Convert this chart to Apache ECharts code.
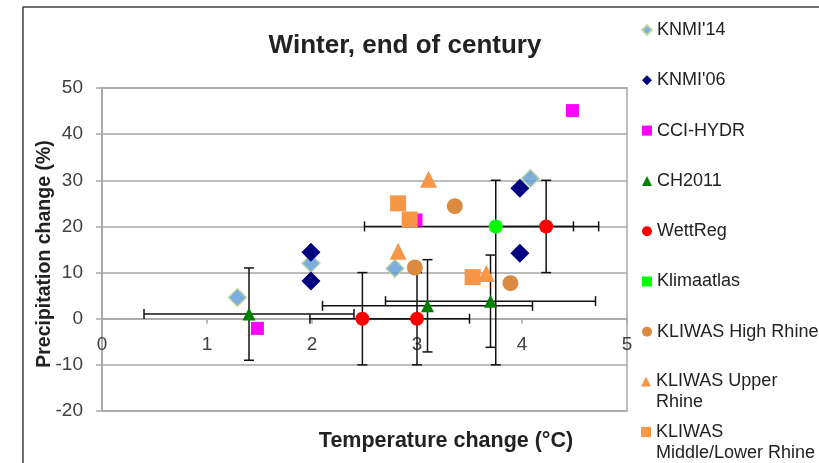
<!DOCTYPE html>
<html>
<head>
<meta charset="utf-8">
<script src="https://cdn.jsdelivr.net/npm/echarts@6/dist/echarts.min.js"></script>
<style>html,body{margin:0;padding:0;background:#fff}#c{width:819px;height:463px}</style>
</head>
<body>
<div id="c"></div>
<script>
// ---- data ----
const xTicks = [0, 1, 2, 3, 4, 5];
const yTicks = [-20, -10, 0, 10, 20, 30, 40, 50];
const knmi14 = [[1.29, 4.6], [1.99, 12.0], [2.79, 10.9], [4.08, 30.4]];
const knmi06 = [[1.99, 14.4], [1.99, 8.2], [3.98, 28.3], [3.98, 14.2]];
const cciHydr = [[4.48, 45.1], [2.99, 21.4], [1.48, -2.1]];
const ch2011 = [[1.4, 1.0], [3.1, 2.8], [3.7, 3.8]];
const wettReg = [[2.48, 0.0], [3.0, 0.0], [4.23, 20.0]];
const klimaatlas = [[3.75, 20.0]];
const kliwasHigh = [[3.36, 24.4], [2.98, 11.1], [3.89, 7.7]];
const kliwasUpper = [[3.11, 30.2], [2.82, 14.6], [3.66, 9.8]];
const kliwasMiddle = [[2.82, 25.0], [2.93, 21.5], [3.53, 9.0]];
// error bars: [x, y, xLow, xHigh, yLow, yHigh]
const ch2011Err = [[1.4, 1.0, 0.4, 2.4, -9, 11], [3.1, 2.8, 2.1, 4.1, -7.2, 12.8], [3.7, 3.8, 2.7, 4.7, -6.2, 13.8]];
const wettRegErr = [[2.48, 0.0, 1.98, 2.98, -10, 10], [3.0, 0.0, 2.5, 3.5, -10, 10], [4.23, 20.0, 3.73, 4.73, 10, 30]];
const klimaatlasErr = [[3.75, 20.0, 2.5, 4.49, -10, 30]];
const seriesNames = ["KNMI'14", "KNMI'06", 'CCI-HYDR', 'CH2011', 'WettReg', 'Klimaatlas', 'KLIWAS High Rhine', 'KLIWAS Upper Rhine', 'KLIWAS Middle/Lower Rhine'];

const FONT = 'Liberation Sans, Arial, sans-serif';
const TXT = '#222';
const GRID = '#A6A6A6';

const Y_MIN = yTicks[0], Y_MAX = yTicks[yTicks.length - 1];
const GRID_TOP = 88, GRID_BOTTOM = 52, CH_H = 463;
// shift x axis (drawn at bottom) up to the y = 0 line
const plotH = CH_H - GRID_TOP - GRID_BOTTOM;
const xAxisOffset = -plotH * (0 - Y_MIN) / (Y_MAX - Y_MIN);

function renderErr(params, api) {
  const x = api.value(0), y = api.value(1);
  const pL = api.coord([api.value(2), y]);
  const pH = api.coord([api.value(3), y]);
  const pB = api.coord([x, api.value(4)]);
  const pT = api.coord([x, api.value(5)]);
  const c = 5;
  const st = { stroke: '#111', lineWidth: 1.5 };
  const ln = (x1, y1, x2, y2) => ({ type: 'line', shape: { x1, y1, x2, y2 }, style: st });
  return {
    type: 'group', children: [
      ln(pL[0], pL[1], pH[0], pH[1]),
      ln(pL[0], pL[1] - c, pL[0], pL[1] + c),
      ln(pH[0], pH[1] - c, pH[0], pH[1] + c),
      ln(pB[0], pB[1], pT[0], pT[1]),
      ln(pB[0] - c, pB[1], pB[0] + c, pB[1]),
      ln(pT[0] - c, pT[1], pT[0] + c, pT[1])
    ]
  };
}

const errSeries = [ch2011Err, wettRegErr, klimaatlasErr].map(d => ({
  type: 'custom', renderItem: renderErr, data: d, silent: true,
  encode: { x: [0, 2, 3], y: [1, 4, 5] }, z: 1
}));

function sc(name, data, symbol, size, color, extra) {
  return Object.assign({
    name, type: 'scatter', data, symbol, symbolSize: size,
    itemStyle: { color, opacity: 1 }, z: 3,
    emphasis: { disabled: true }
  }, extra || {});
}

const legendText = { fontSize: 18, lineHeight: 21, fontFamily: FONT, color: TXT };
const legendBase = { orient: 'vertical', left: 641, padding: 0, itemWidth: 10, itemHeight: 10, selectedMode: false };

const option = {
  animation: false,
  backgroundColor: '#fff',
  title: {
    text: 'Winter, end of century', left: 405, top: 33, padding: 0, textAlign: 'center',
    textStyle: { fontSize: 26, fontWeight: 'bold', fontFamily: FONT, color: TXT }
  },
  graphic: [
    { type: 'rect', z: -1, shape: { x: 23, y: 7, width: 900, height: 600 }, style: { fill: 'none', stroke: '#404040', lineWidth: 1.5 } },
    { type: 'text', x: 446, y: 441, style: { text: 'Temperature change (°C)', font: 'bold 21.5px ' + FONT, fill: TXT, align: 'center', verticalAlign: 'middle' } },
    { type: 'text', x: 45, y: 254, rotation: Math.PI / 2, style: { text: 'Precipitation change (%)', font: 'bold 19.5px ' + FONT, fill: TXT, align: 'center', verticalAlign: 'middle' } }
  ],
  legend: [
    Object.assign({}, legendBase, {
      top: 19.5, itemGap: 29.3, textStyle: legendText,
      data: [seriesNames[0], seriesNames[1], seriesNames[2], seriesNames[3], seriesNames[4], { name: seriesNames[5], icon: 'rect' }, seriesNames[6]]
    }),
    Object.assign({}, legendBase, {
      top: 350, data: [seriesNames[7]], formatter: () => '\nKLIWAS Upper\nRhine',
      textStyle: legendText
    }),
    Object.assign({}, legendBase, {
      top: 400.5, data: [seriesNames[8]], formatter: () => '\nKLIWAS\nMiddle/Lower Rhine',
      textStyle: legendText
    })
  ],
  grid: { left: 102, top: GRID_TOP, right: 192, bottom: GRID_BOTTOM, show: true, borderColor: GRID, borderWidth: 1.5, containLabel: false },
  xAxis: {
    type: 'value', min: xTicks[0], max: xTicks[xTicks.length - 1], interval: 1,
    offset: xAxisOffset,
    axisLine: { show: true, onZero: false, lineStyle: { color: GRID, width: 1.5 } },
    axisTick: { show: true, length: 5, lineStyle: { color: GRID, width: 1.5 } },
    splitLine: { show: false },
    axisLabel: { fontSize: 19, fontFamily: FONT, color: '#404040', margin: 17 }
  },
  yAxis: {
    type: 'value', min: Y_MIN, max: Y_MAX, interval: 10,
    axisLine: { show: true, onZero: false, lineStyle: { color: GRID, width: 1.5 } },
    axisTick: { show: true, length: 6, lineStyle: { color: GRID, width: 1.5 } },
    splitLine: { show: true, lineStyle: { color: GRID, width: 1.5 } },
    axisLabel: { fontSize: 19, fontFamily: FONT, color: '#404040', margin: 19 }
  },
  series: errSeries.concat([
    sc(seriesNames[0], knmi14, 'diamond', 18, '#5B9BD5', { itemStyle: { color: '#5B9BD5', borderColor: '#C4D79B', borderWidth: 1.5 } }),
    sc(seriesNames[1], knmi06, 'diamond', 19, '#000080'),
    sc(seriesNames[2], cciHydr, 'rect', 13, '#FF00FF'),
    sc(seriesNames[3], ch2011, 'triangle', 13, '#008000'),
    sc(seriesNames[4], wettReg, 'circle', 14, '#FF0000'),
    sc(seriesNames[5], klimaatlas, 'circle', 14, '#00FF00'),
    sc(seriesNames[6], kliwasHigh, 'circle', 16, '#DC8A40'),
    sc(seriesNames[7], kliwasUpper, 'triangle', 17, '#F79646'),
    sc(seriesNames[8], kliwasMiddle, 'rect', 16, '#F79646')
  ])
};

const chart = echarts.init(document.getElementById('c'), null, { renderer: 'canvas' });
chart.setOption(option);
</script>
</body>
</html>
